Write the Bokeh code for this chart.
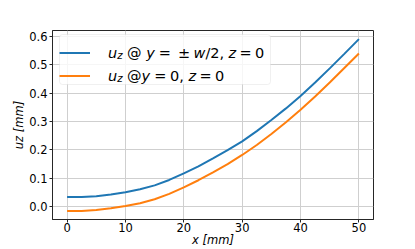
from bokeh.plotting import figure
from bokeh.models import (Range1d, Legend, LegendItem, Label, FixedTicker,
                          PrintfTickFormatter, BoxAnnotation)
from bokeh.embed import file_html
from bokeh.resources import INLINE

# ---- data ----
x_mm = [0, 2.5, 5, 7.5, 10, 12.5, 15, 17.5, 20, 22.5, 25, 27.5, 30, 32.5, 35, 37.5, 40, 42.5, 45, 47.5, 50]
uz_edge = [0.034, 0.034, 0.037, 0.043, 0.051, 0.061, 0.075, 0.094, 0.117, 0.142, 0.170,
           0.199, 0.230, 0.266, 0.305, 0.346, 0.390, 0.437, 0.487, 0.538, 0.590]
uz_center = [-0.015, -0.015, -0.012, -0.006, 0.002, 0.012, 0.026, 0.045, 0.068, 0.093, 0.121,
             0.150, 0.182, 0.217, 0.256, 0.297, 0.341, 0.388, 0.437, 0.488, 0.539]
x_ticks = [0, 10, 20, 30, 40, 50]
y_ticks = [0.0, 0.1, 0.2, 0.3, 0.4, 0.5, 0.6]
x_title = "x [mm]"
y_title = "uz [mm]"

FONT = "DejaVu Sans"

xlo, xhi = min(x_mm), max(x_mm)
xpad = 0.05 * (xhi - xlo)
ylo = min(uz_edge + uz_center)
yhi = max(uz_edge + uz_center)
ypad = 0.05 * (yhi - ylo)

p = figure(width=415, height=249, output_backend="svg", toolbar_location=None,
           x_range=Range1d(xlo - xpad, xhi + xpad), y_range=Range1d(ylo - ypad, yhi + ypad),
           min_border_left=52, min_border_right=42, min_border_top=30, min_border_bottom=28)
p.background_fill_color = "white"
p.border_fill_color = "white"
p.outline_line_color = "#262626"
p.outline_line_width = 1

for ax in (p.xaxis[0], p.yaxis[0]):
    ax.axis_line_color = "#262626"
    ax.major_tick_line_color = "#262626"
    ax.major_tick_out = 3
    ax.major_tick_in = 0
    ax.minor_tick_line_color = None
    ax.major_label_text_font = FONT
    ax.major_label_text_font_size = "11.5px"
    ax.major_label_text_color = "black"
    ax.axis_label_text_font = FONT
    ax.axis_label_text_font_size = "11.5px"
    ax.axis_label_text_font_style = "italic"
    ax.axis_label_text_color = "black"
p.xaxis[0].major_label_standoff = 0
p.xaxis[0].axis_label_standoff = -2
p.yaxis[0].major_label_standoff = 2
p.yaxis[0].axis_label_standoff = 0
p.xaxis[0].axis_label = x_title
p.yaxis[0].axis_label = y_title
p.xaxis[0].ticker = FixedTicker(ticks=x_ticks)
p.yaxis[0].ticker = FixedTicker(ticks=y_ticks)
p.yaxis[0].formatter = PrintfTickFormatter(format="%.1f")

p.grid.grid_line_color = "#cfcfcf"
p.grid.grid_line_width = 1

r1 = p.line(x_mm, uz_edge, line_color="#1f77b4", line_width=2)
r2 = p.line(x_mm, uz_center, line_color="#ff7f0e", line_width=2)

# legend frame (rounded, translucent white)
p.add_layout(BoxAnnotation(left=7, right=218, bottom=135, top=185,
                           left_units="screen", right_units="screen",
                           bottom_units="screen", top_units="screen",
                           fill_color="white", fill_alpha=0.8,
                           line_color="#cccccc", line_width=1, border_radius=3,
                           level="annotation"))

legend = Legend(items=[LegendItem(label=" ", renderers=[r1]), LegendItem(label=" ", renderers=[r2])],
                location=(7, 135), margin=0, padding=4, spacing=6,
                glyph_width=31, glyph_height=17, label_height=17, label_width=162, label_standoff=10,
                label_text_font_size="8px",
                border_line_color=None, background_fill_alpha=0)
p.add_layout(legend)


def label(x, y, text, style="normal", size="14.5px"):
    p.add_layout(Label(x=x, y=y, x_units="screen", y_units="screen", text=text,
                       text_font=FONT, text_font_size=size, text_font_style=style,
                       text_color="black", text_align="left", text_baseline="alphabetic",
                       level="overlay"))


# legend row 1: u_z @ y = ± w/2, z = 0
b1 = 166.7
label(55.5, b1, "u", "italic")
label(64.7, b1 - 3, "z", "italic", "10.2px")
label(74.6, b1, "@")
label(93.7, b1, "y", "italic")
label(106.3, b1, "=")
label(125.5, b1, "±")
label(141.0, b1, "w", "italic")
label(152.9, b1, "/2,")
label(176.0, b1, "z", "italic")
label(187.0, b1, "=")
label(202.5, b1, "0")

# legend row 2: u_z @y = 0, z = 0
b2 = 143.7
label(55.5, b2, "u", "italic")
label(64.7, b2 - 3, "z", "italic", "10.2px")
label(74.6, b2, "@")
label(89.1, b2, "y", "italic")
label(101.7, b2, "=")
label(117.5, b2, "0,")
label(136.0, b2, "z", "italic")
label(147.0, b2, "=")
label(162.5, b2, "0")

open("out.html", "w").write(file_html(p, INLINE))
